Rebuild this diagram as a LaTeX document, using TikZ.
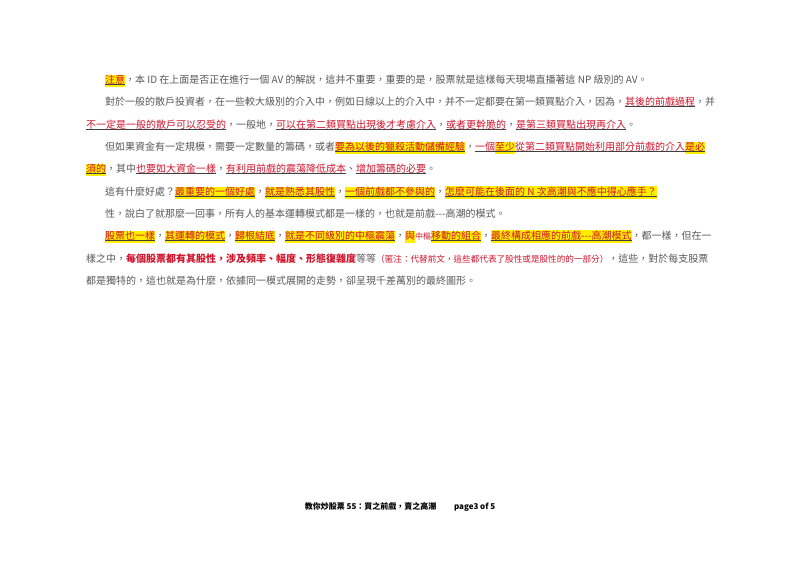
\documentclass[tikz,border=0pt]{standalone}
\usepackage{fontspec}
\setmainfont{Noto Sans CJK TC}
\definecolor{txt}{HTML}{585858}
\definecolor{redc}{HTML}{D0142C}
\definecolor{hly}{HTML}{FFEE00}
\definecolor{ulc}{HTML}{404040}
\newcommand\myul[1]{\vtop{\hbox{#1}\kern0.6pt{\color{ulc}\hrule height 0.7pt}}}
\newcommand\ulr[1]{{\color{redc}\myul{#1}}}
\newcommand\hlu[1]{{\setlength\fboxsep{0pt}\colorbox{hly}{\strut\color{redc}\myul{#1}}}}
\newcommand\hlo[1]{{\setlength\fboxsep{0pt}\colorbox{hly}{\strut\color{redc}#1}}}
\begin{document}
\begin{tikzpicture}[x=1pt,y=-1pt,
  ln/.style={anchor=base west,inner sep=0pt,font=\fontsize{10}{12}\selectfont,text=txt}]
\useasboundingbox[fill=white] (0,0) rectangle (800,566);
\node[ln] (l1) at (105,83) {\hlu{注意}，本 ID 在上面是否正在進行一個 AV 的解說，這并不重要，重要的是，股票就是這樣每天現場直播著這 NP 級別的 AV。};
\node[ln] (l2) at (105,105) {對於一般的散戶投資者，在一些較大級別的介入中，例如日線以上的介入中，并不一定都要在第一類買點介入，因為，\ulr{其後的前戲過程}，并};
\node[ln] (l3) at (86,128) {\ulr{不一定是一般的散戶可以忍受的}，一般地，\ulr{可以在第二類買點出現後才考慮介入}，\ulr{或者更幹脆的}，\ulr{是第三類買點出現再介入}。};
\node[ln] (l4) at (105,150) {但如果資金有一定規模，需要一定數量的籌碼，或者\hlu{要為以後的獵殺活動儲備經驗}，\ulr{一個}\hlu{至少}\ulr{從第二類買點開始利用部分前戲的介入}\hlu{是必}};
\node[ln] (l5) at (86,172) {\hlu{須的}，其中\ulr{也要如大資金一樣}，\ulr{有利用前戲的震蕩降低成本}、\ulr{增加籌碼的必要}。};
\node[ln] (l6) at (105,195) {這有什麼好處？\hlu{最重要的一個好處}，\hlu{就是熟悉其股性}，\hlu{一個前戲都不參與的}，\hlu{怎麼可能在後面的 N 次高潮與不應中得心應手？}};
\node[ln] (l7) at (105,217) {性，說白了就那麼一回事，所有人的基本運轉模式都是一樣的，也就是前戲{-}{-}{-}高潮的模式。};
\node[ln] (l8) at (105,239) {\hlu{股票也一樣}，\hlu{其運轉的模式}，\hlu{歸根結底}，\hlu{就是不同級別的中樞震蕩}，\hlo{與}{\color{redc}\fontsize{8}{10}\selectfont 中樞}\hlu{移動的組合}，\hlu{最終構成相應的前戲{-}{-}{-}高潮模式}，都一樣，但在一};
\node[ln] (l9) at (86,262) {樣之中，{\color{redc}\bfseries 每個股票都有其股性，涉及頻率、幅度、形態復雜度}等等{\color{redc}\fontsize{8.6}{10}\selectfont（匿注：代替前文，這些都代表了股性或是股性的的一部分）}，這些，對於每支股票};
\node[ln] (l10) at (86,284) {都是獨特的，這也就是為什麼，依據同一模式展開的走勢，卻呈現千差萬別的最終圖形。};
\node[anchor=base,inner sep=0pt,font=\fontsize{8}{10}\selectfont\bfseries] (ft) at (400,509) {教你炒股票 55：買之前戲，賣之高潮\hspace{2.2em}page3 of 5};
\end{tikzpicture}
\end{document}
